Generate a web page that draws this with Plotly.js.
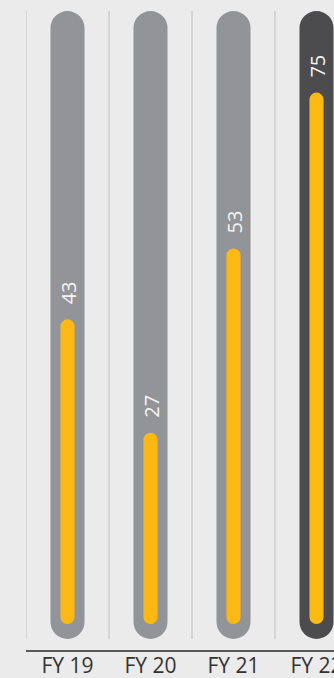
<!DOCTYPE html>
<html>
<head>
<meta charset="utf-8">
<script src="https://cdn.plot.ly/plotly-3.0.1.min.js"></script>
<style>
  html, body { margin: 0; padding: 0; background: #ebebeb; }
  #chart { width: 334px; height: 678px; }
</style>
</head>
<body>
<div id="chart"></div>
<script>
// Fiscal years and their values
const categories = ['FY 19', 'FY 20', 'FY 21', 'FY 22'];
const values = [43, 27, 53, 75];

// Full-scale range covered by the background capsules
const trackMin = -2.1;
const trackMax = 86.5;

const idx = categories.map((_, i) => i);
const last = categories.length - 1;

const trackColor = '#939497';
const trackHighlight = '#4c4c4e';
const fillColor = '#fdb913';

// A capsule: one floating bar from lo to hi with fully rounded ends
function capsule(lo, hi, width, colors) {
  return {
    type: 'bar',
    x: idx,
    base: lo,
    y: hi.map((h, i) => h - lo[i]),
    width: width,
    marker: { color: colors, cornerradius: '50%', line: { width: 0 } },
    hoverinfo: 'skip',
    showlegend: false
  };
}

const trackColors = idx.map(i => (i === last ? trackHighlight : trackColor));
const traces = [
  capsule(idx.map(() => trackMin), idx.map(() => trackMax), 0.41, trackColors),
  capsule(idx.map(() => 0), values, 0.17, idx.map(() => fillColor))
];

const gridShapes = idx.map(i => ({
  type: 'line', xref: 'x', yref: 'y', layer: 'below',
  x0: i - 0.5, x1: i - 0.5, y0: trackMin, y1: trackMax,
  line: { color: '#bdbdbd', width: 1 }
}));

const labels = idx.map(i => ({
  x: i, y: values[i], xref: 'x', yref: 'y',
  text: String(values[i]),
  showarrow: false, textangle: -90,
  xanchor: 'center', yanchor: 'bottom', yshift: 13, xshift: 1,
  font: { family: 'Open Sans, sans-serif', size: 20, color: '#f4f4f4' }
}));

const layout = {
  width: 334, height: 678,
  margin: { l: 26, r: 0, t: 0, b: 28 },
  paper_bgcolor: '#ebebeb',
  plot_bgcolor: '#ebebeb',
  barmode: 'overlay',
  showlegend: false,
  xaxis: {
    range: [-0.5, -0.5 + 308 / 83],
    tickmode: 'array', tickvals: idx, ticktext: categories,
    ticks: '', showgrid: false, zeroline: false,
    showline: true, linecolor: '#58595b', linewidth: 1.5,
    ticklabeloverflow: 'allow',
    ticklabelstandoff: -4,
    tickfont: { family: 'Open Sans, sans-serif', size: 21, color: '#333333' },
    fixedrange: true
  },
  yaxis: {
    range: [-3.67, 88.07],
    visible: false, showgrid: false, zeroline: false, fixedrange: true
  },
  shapes: gridShapes,
  annotations: labels
};

Plotly.newPlot('chart', traces, layout, { staticPlot: true, displayModeBar: false });
</script>
</body>
</html>
